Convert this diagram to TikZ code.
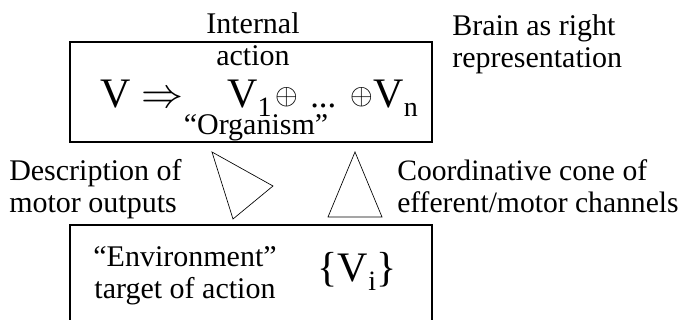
\RequirePackage{fix-cm}
\documentclass[tikz,border=0pt]{standalone}
\usepackage{graphicx}
\usepackage{fontspec}
\setmainfont{Liberation Serif}
\tikzset{
  lbl/.style={inner sep=0pt, align=left, font=\fontsize{22.5}{24}\selectfont},
  big/.style={inner sep=0pt, font=\fontsize{31.5}{33}\selectfont},
  frame/.style={line width=1.5pt},
  cone/.style={line width=0.5pt}
}
\newcommand{\lowsub}[1]{\raisebox{-6.75pt}{\fontsize{21}{21}\selectfont #1}}
\newcommand{\bigplus}{\raisebox{2.5pt}{\resizebox{17pt}{!}{$\oplus$}}}
\begin{document}
\begin{tikzpicture}[x=0.75pt,y=0.75pt,yscale=-1,xscale=1]
\useasboundingbox (0,0) rectangle (683,320);
% boxes
\draw[frame] (70,42) rectangle (432,142);
\draw[frame] (70,322) -- (70,225) -- (432,225) -- (432,322);
% cones
\draw[cone] (212,152) -- (273,186) -- (233,219) -- cycle;
\draw[cone] (355,152) -- (382,217) -- (328,217) -- cycle;
% labels
\node (internal) [lbl, align=center, anchor=north] at (253,12.5) {Internal\\action};
\node (brain) [lbl, anchor=north west] at (452,14) {Brain as right\\representation};
\node (descr) [lbl, anchor=north west] at (9,159) {Description of\\motor outputs};
\node (coord) [lbl, anchor=north west, font=\fontsize{22.2}{24}\selectfont] at (397,159) {Coordinative cone of\\efferent/motor channels};
\node (organism) [lbl, anchor=base] at (256,135) {“Organism”};
\node (env) [lbl, align=center, anchor=north] at (185,246) {“Environment”\\target of action};
% formula
\node (vlhs) [big, anchor=base west] at (100,108) {V};
\node (implies) [big, anchor=base west] at (141,108) {$\Rightarrow$};
\node (vsum) [big, anchor=base west] at (227,108)
  {V\lowsub{1}\hspace{3pt}\bigplus\hspace{9pt}{\fontsize{26}{26}\selectfont...}\hspace{11pt}\bigplus V\lowsub{n}};
\node (vset) [big, anchor=base] at (357,282) {\{V\lowsub{i}\}};
\end{tikzpicture}
\end{document}
